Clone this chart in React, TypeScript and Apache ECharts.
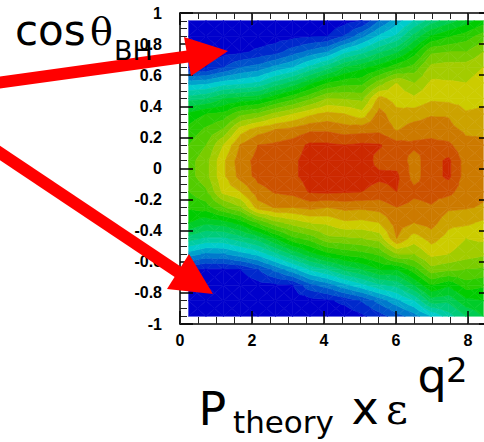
import React, { useEffect, useRef } from "react";
import * as echarts from "echarts";

// ---- histogram binning (18 x-bins on [0, 26/3], 20 y-bins on [-1, 1]) ----
const xBinCenters = [0.241, 0.722, 1.204, 1.685, 2.167, 2.648, 3.13, 3.611, 4.093, 4.574, 5.056, 5.537, 6.019, 6.5, 6.981, 7.463, 7.944, 8.426];
const yBinCenters = [0.95, 0.85, 0.75, 0.65, 0.55, 0.45, 0.35, 0.25, 0.15, 0.05, -0.05, -0.15, -0.25, -0.35, -0.45, -0.55, -0.65, -0.75, -0.85, -0.95];

// ---- bin contents per x column, listed from y = 0.95 down to y = -0.95 (contour units) ----
const zCol00 = [0, 0.2, 0.5, 1.0, 4.5, 7.5, 10.3, 11.3, 12.0, 12.6, 12.6, 12.0, 11.2, 10.0, 7.5, 4.5, 1.0, 0.4, 0.2, 0];
const zCol01 = [0, 0.2, 0.5, 1.0, 4.7, 7.9, 11.0, 12.2, 13.0, 13.6, 13.6, 12.8, 11.5, 9.2, 6.8, 3.8, 0.8, 0.3, 0.1, 0];
const zCol02 = [0, 0.25, 0.6, 2.0, 5.4, 8.9, 11.3, 13.1, 15.0, 15.8, 15.8, 15.3, 12.9, 9.5, 6.8, 3.9, 0.8, 0.3, 0.1, 0];
const zCol03 = [0, 0.3, 0.8, 3.0, 5.7, 9.3, 12.7, 15.5, 17.1, 17.6, 17.4, 16.0, 13.9, 10.4, 7.5, 4.6, 1.0, 0.4, 0.15, 0];
const zCol04 = [0, 0.4, 1.2, 3.4, 6.1, 9.6, 13.2, 16.5, 18.0, 18.3, 18.3, 17.6, 16.5, 12.1, 8.4, 5.3, 2.0, 0.6, 0.2, 0];
const zCol05 = [0, 0.5, 1.6, 4.3, 7.3, 10.7, 14.3, 17.0, 18.2, 18.6, 18.6, 18.1, 17.1, 13.6, 10.0, 6.7, 3.3, 0.8, 0.3, 0.1];
const zCol06 = [0.1, 0.7, 2.5, 5.0, 8.3, 11.7, 15.0, 17.3, 18.5, 18.8, 18.8, 18.3, 17.0, 14.4, 11.7, 8.2, 4.6, 1.0, 0.4, 0.1];
const zCol07 = [0.2, 0.9, 3.3, 6.3, 9.7, 12.8, 15.8, 17.8, 19.2, 19.4, 19.4, 19.1, 17.3, 15.0, 12.4, 9.6, 6.1, 2.7, 0.6, 0.2];
const zCol08 = [0.3, 1.0, 4.0, 7.5, 11.0, 14.0, 16.3, 17.8, 19.2, 19.6, 19.6, 19.2, 17.0, 15.2, 13.7, 10.7, 7.0, 3.5, 0.8, 0.2];
const zCol09 = [0.6, 2.1, 5.7, 9.0, 11.6, 13.9, 16.0, 17.5, 19.0, 19.5, 19.5, 19.1, 17.3, 15.8, 13.8, 11.3, 8.2, 4.7, 1.3, 0.3];
const zCol10 = [1.0, 3.7, 6.6, 9.7, 11.7, 13.7, 15.4, 17.6, 19.2, 19.5, 19.4, 19.0, 17.2, 15.7, 14.0, 11.6, 9.0, 5.7, 2.1, 0.8];
const zCol11 = [3.0, 5.2, 7.8, 10.5, 13.5, 16.3, 17.4, 17.7, 19.1, 18.7, 19.2, 18.6, 17.4, 16.0, 14.4, 12.2, 10.0, 6.8, 3.4, 1.5];
const zCol12 = [4.5, 6.2, 8.8, 11.6, 15.0, 15.6, 16.3, 16.9, 18.4, 18.6, 19.2, 19.0, 18.0, 17.5, 17.0, 14.0, 10.0, 7.3, 4.7, 2.5];
const zCol13 = [6.0, 8.3, 10.5, 12.4, 14.0, 15.2, 16.5, 17.5, 18.2, 17.6, 17.6, 18.3, 17.6, 17.0, 15.5, 14.0, 11.5, 9.0, 6.0, 3.5];
const zCol14 = [7.5, 10.1, 12.8, 14.3, 15.2, 15.8, 16.9, 17.6, 18.3, 18.6, 18.6, 18.4, 17.9, 17.4, 16.4, 15.3, 13.6, 11.0, 8.5, 5.0];
const zCol15 = [8.5, 10.9, 13.0, 14.5, 15.1, 15.7, 16.9, 17.3, 18.2, 19.2, 19.2, 18.3, 17.2, 16.3, 15.6, 15.0, 13.2, 10.2, 8.3, 6.5];
const zCol16 = [9.5, 11.5, 13.0, 14.5, 15.0, 15.6, 16.1, 16.8, 17.3, 17.5, 17.5, 17.4, 17.1, 16.2, 15.0, 14.5, 13.0, 11.5, 9.7, 8.0];
const zCol17 = [10.5, 12.5, 14.0, 15.0, 15.5, 15.8, 16.2, 16.8, 17.2, 17.3, 17.3, 17.2, 16.9, 15.8, 15.2, 14.2, 12.8, 11.2, 10.0, 9.0];

const zColumns = [zCol00, zCol01, zCol02, zCol03, zCol04, zCol05, zCol06, zCol07, zCol08, zCol09, zCol10, zCol11, zCol12, zCol13, zCol14, zCol15, zCol16, zCol17];

// 20 contour levels
const contourLevels = [0, 1, 2, 3, 4, 5, 6, 7, 8, 9, 10, 11, 12, 13, 14, 15, 16, 17, 18, 19, 20];

const xAxisMin = 0;
const xAxisMax = 26 / 3;
const xMajorTicks = [0, 2, 4, 6, 8];
const yAxisMin = -1;
const yAxisMax = 1;

// rainbow palette: hue 240 -> 12 in 20 steps, value 0.8
function bandColor(k: number): string {
  const h = 240 - 12 * k;
  const v = 204;
  const hh = h / 60;
  const i = Math.floor(hh);
  const f = hh - i;
  const q = Math.round(v * (1 - f));
  const t = Math.round(v * f);
  let rgb: number[];
  switch (i) {
    case 0: rgb = [v, t, 0]; break;
    case 1: rgb = [q, v, 0]; break;
    case 2: rgb = [0, v, t]; break;
    case 3: rgb = [0, q, v]; break;
    case 4: rgb = [t, 0, v]; break;
    default: rgb = [v, 0, q];
  }
  return `rgb(${rgb[0]},${rgb[1]},${rgb[2]})`;
}
const bandColors = contourLevels.slice(0, -1).map((_, k) => bandColor(k));

type P3 = [number, number, number];

function clipPoly(poly: P3[], level: number, keepAbove: boolean): P3[] {
  const out: P3[] = [];
  const n = poly.length;
  for (let i = 0; i < n; i++) {
    const P = poly[i];
    const Q = poly[(i + 1) % n];
    const pin = keepAbove ? P[2] >= level : P[2] <= level;
    const qin = keepAbove ? Q[2] >= level : Q[2] <= level;
    if (pin) out.push(P);
    if (pin !== qin) {
      const t = (level - P[2]) / (Q[2] - P[2]);
      out.push([P[0] + t * (Q[0] - P[0]), P[1] + t * (Q[1] - P[1]), level]);
    }
  }
  return out;
}

const cells: number[][] = [];
for (let i = 0; i < xBinCenters.length - 1; i++) {
  for (let j = 0; j < yBinCenters.length - 1; j++) {
    cells.push([(xBinCenters[i] + xBinCenters[i + 1]) / 2, (yBinCenters[j] + yBinCenters[j + 1]) / 2, i, j]);
  }
}

function renderCell(params: any, api: any) {
  const i = api.value(2);
  const j = api.value(3);
  const mk = (ii: number, jj: number): P3 => {
    const p = api.coord([xBinCenters[ii], yBinCenters[jj]]);
    return [p[0], p[1], zColumns[ii][jj]];
  };
  const a = mk(i, j);
  const b = mk(i + 1, j);
  const c = mk(i + 1, j + 1);
  const d = mk(i, j + 1);
  const m: P3 = [(a[0] + b[0] + c[0] + d[0]) / 4, (a[1] + b[1] + c[1] + d[1]) / 4, (a[2] + b[2] + c[2] + d[2]) / 4];
  const tris: P3[][] = [[a, b, m], [b, c, m], [c, d, m], [d, a, m]];
  const children: any[] = [];
  const nb = contourLevels.length - 1;
  for (const tri of tris) {
    const zs = tri.map((p) => p[2]);
    const zmin = Math.min(...zs);
    const zmax = Math.max(...zs);
    const k0 = Math.max(0, Math.floor(zmin));
    const k1 = Math.min(nb - 1, Math.floor(zmax));
    for (let k = k0; k <= k1; k++) {
      const lo = contourLevels[k];
      const hi = contourLevels[k + 1];
      let poly = clipPoly(tri, lo, true);
      if (poly.length < 3) continue;
      poly = clipPoly(poly, hi, false);
      if (poly.length < 3) continue;
      children.push({
        type: "polygon",
        shape: { points: poly.map((p) => [p[0], p[1]]) },
        style: { fill: bandColors[k], stroke: bandColors[k], lineWidth: 0.6 },
        silent: true,
      });
    }
  }
  return { type: "group", children };
}

const labelFont = { fontFamily: "Liberation Sans", fontWeight: "bold", fontSize: 16, color: "#000" };

function majorLabel(v: number) {
  return xMajorTicks.some((t) => Math.abs(t - v) < 1e-6) ? String(v) : "";
}

const noSplit = { splitLine: { show: false }, minorSplitLine: { show: false } };

const option: any = {
  animation: false,
  backgroundColor: "#fff",
  grid: { left: 180, top: 13, width: 312, height: 311, containLabel: false, outerBoundsMode: "none" },
  xAxis: [
    {
      type: "value", min: xAxisMin, max: xAxisMax, interval: 2, position: "bottom", z: 5, ...noSplit,
      axisLine: { show: true, onZero: false, lineStyle: { color: "#000", width: 1.5 } },
      axisTick: { show: true, inside: true, length: 13, lineStyle: { color: "#000", width: 1.5 } },
      axisLabel: { ...labelFont, margin: 8, formatter: majorLabel, showMinLabel: true, showMaxLabel: true },
    },
    {
      type: "value", min: xAxisMin, max: xAxisMax, interval: 0.5, position: "bottom", z: 5, ...noSplit,
      axisLine: { show: false, onZero: false },
      axisTick: { show: true, inside: true, length: 7, lineStyle: { color: "#222", width: 1 } },
      axisLabel: { show: false },
    },
    {
      type: "value", min: xAxisMin, max: xAxisMax, interval: 2, position: "top", z: 5, ...noSplit,
      axisLine: { show: true, onZero: false, lineStyle: { color: "#000", width: 1.5 } },
      axisTick: { show: true, inside: true, length: 12, lineStyle: { color: "#000", width: 1.5 } },
      axisLabel: { show: false },
    },
    {
      type: "value", min: xAxisMin, max: xAxisMax, interval: 0.5, position: "top", z: 5, ...noSplit,
      axisLine: { show: false, onZero: false },
      axisTick: { show: true, inside: true, length: 6, lineStyle: { color: "#222", width: 1 } },
      axisLabel: { show: false },
    },
  ],
  yAxis: [
    {
      type: "value", min: yAxisMin, max: yAxisMax, interval: 0.2, position: "left", z: 5, ...noSplit,
      axisLine: { show: true, onZero: false, lineStyle: { color: "#000", width: 1.5 } },
      axisTick: { show: true, inside: true, length: 13, lineStyle: { color: "#000", width: 1.5 } },
      minorTick: { show: true, splitNumber: 4, length: 7, lineStyle: { color: "#222", width: 1 } },
      axisLabel: { ...labelFont, margin: 18, showMinLabel: true, showMaxLabel: true },
    },
    {
      type: "value", min: yAxisMin, max: yAxisMax, interval: 0.2, position: "right", z: 5, ...noSplit,
      axisLine: { show: true, onZero: false, lineStyle: { color: "#000", width: 1.5 } },
      axisTick: { show: true, inside: true, length: 13, lineStyle: { color: "#000", width: 1.5 } },
      minorTick: { show: true, splitNumber: 4, length: 7, lineStyle: { color: "#222", width: 1 } },
      axisLabel: { show: false },
    },
  ],
  series: [
    {
      type: "custom",
      xAxisIndex: 0,
      yAxisIndex: 0,
      z: 1,
      silent: true,
      renderItem: renderCell,
      encode: { x: 0, y: 1 },
      data: cells,
    },
  ],
  graphic: [
    // arrows
    { type: "line", z: 100, shape: { x1: -10, y1: 83.9, x2: 195, y2: 55.5 }, style: { stroke: "#ff0000", lineWidth: 12 } },
    { type: "polygon", z: 100, shape: { points: [[184, 37], [191, 76], [228, 51]] }, style: { fill: "#ff0000" } },
    { type: "line", z: 100, shape: { x1: -10, y1: 146.3, x2: 184, y2: 275.9 }, style: { stroke: "#ff0000", lineWidth: 12 } },
    { type: "polygon", z: 100, shape: { points: [[189, 254], [167, 289], [213, 294]] }, style: { fill: "#ff0000" } },
    // y title
    { type: "text", z: 110, x: 15, y: 30.5, style: { text: "cos", font: '42px "DejaVu Sans"', fill: "#000", verticalAlign: "middle" } },
    { type: "text", z: 110, x: 90, y: 32, style: { text: "θ", font: '38px "DejaVu Serif"', fill: "#000", verticalAlign: "middle" } },
    { type: "text", z: 110, x: 114, y: 50.7, style: { text: "BH", font: '27px "DejaVu Sans"', fill: "#000", verticalAlign: "middle" } },
    // x title
    { type: "text", z: 110, x: 198.5, y: 409.1, style: { text: "P", font: '46px "DejaVu Sans"', fill: "#000", verticalAlign: "middle" } },
    { type: "text", z: 110, x: 233, y: 421.6, style: { text: "theory", font: '31px "DejaVu Sans"', fill: "#000", verticalAlign: "middle" } },
    { type: "text", z: 110, x: 351.5, y: 408.1, style: { text: "x", font: '46px "DejaVu Sans"', fill: "#000", verticalAlign: "middle" } },
    { type: "text", z: 110, x: 386, y: 409.5, style: { text: "ε", font: '42px "DejaVu Serif"', fill: "#000", verticalAlign: "middle" } },
    { type: "text", z: 110, x: 417.5, y: 376.1, style: { text: "q", font: '46px "DejaVu Sans"', fill: "#000", verticalAlign: "middle" } },
    { type: "text", z: 110, x: 446, y: 370.2, style: { text: "2", font: '34px "DejaVu Sans"', fill: "#000", verticalAlign: "middle" } },
  ],
};

export default function App() {
  const ref = useRef<HTMLDivElement>(null);
  useEffect(() => {
    if (!ref.current) return;
    const chart = echarts.init(ref.current, null, { renderer: "svg" });
    chart.setOption(option);
    return () => chart.dispose();
  }, []);
  return <div ref={ref} style={{ position: "absolute", left: 0, top: 0, width: 484, height: 442 }} />;
}
